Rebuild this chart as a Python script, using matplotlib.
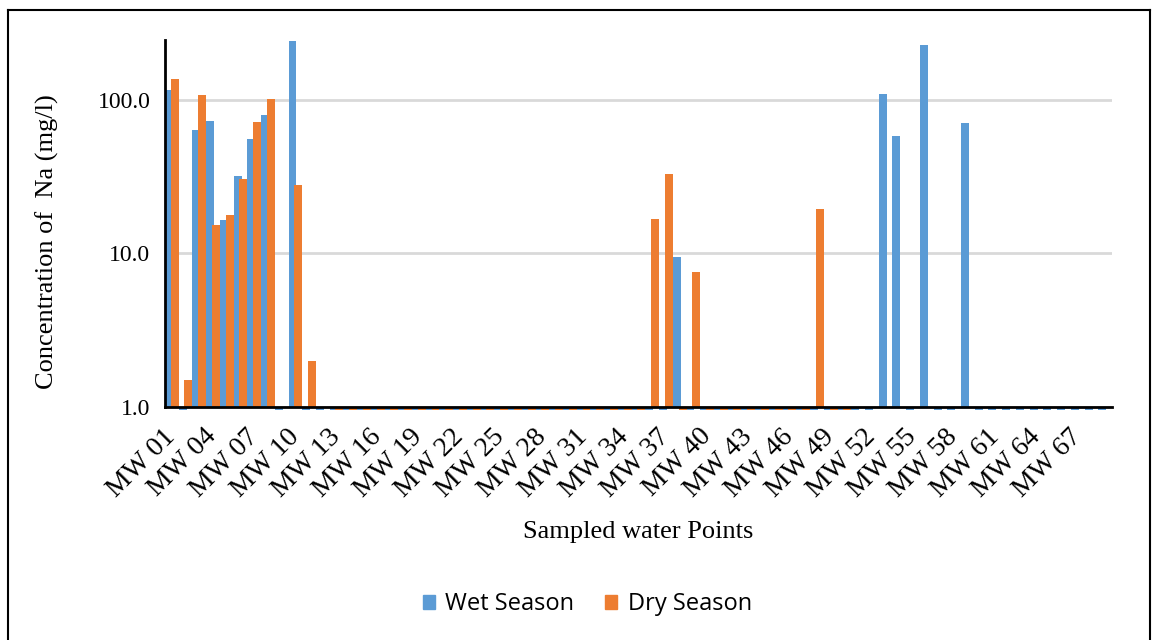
import numpy as np
import matplotlib.pyplot as plt
from matplotlib.ticker import FixedLocator, FixedFormatter, NullLocator
from matplotlib.lines import Line2D
from matplotlib.transforms import ScaledTranslation, blended_transform_factory

# sampling points MW 01 .. MW 69
sites = [f"MW {i:02d}" for i in range(1, 70)]

nan = np.nan
bdl = 0.96  # below 1 mg/l

# Na concentration (mg/l), wet season
wet = [115.7, bdl, 63.8, 73.0, 16.6, 32.0, 55.7, 79.5, bdl, 240.0,
       bdl, bdl] + [bdl] * 23 + [bdl, bdl, 9.5, bdl] + [bdl] * 13 + \
      [109.0, 57.7, bdl, 227.0, bdl, bdl, 71.1] + [bdl] * 10

# Na concentration (mg/l), dry season
dry = [137.0, 1.5, 106.7, 15.2, 17.9, 30.3, 72.2, 101.6, nan, 27.9,
       2.0, nan] + [bdl] * 23 + [16.8, 33.0, bdl, 7.6] + [bdl] * 8 + \
      [19.4, bdl, bdl] + [nan] * 19

wet = np.array(wet, dtype=float)
dry = np.array(dry, dtype=float)

blue = '#5B9BD5'
orange = '#ED7D31'
serif = 'Liberation Serif'

fig = plt.figure(figsize=(11.54, 6.40), dpi=100)
ax = fig.add_axes([165/1154, 1 - 407/640, 947/1154, 367/640])

x = np.arange(len(sites))
w = 0.58
ax.set_yscale('log')
for vals, off, col in [(wet, -0.21, blue), (dry, 0.21, orange)]:
    m = ~np.isnan(vals)
    ax.bar(x[m] + off, vals[m] - 1, bottom=1, width=w, color=col,
           clip_on=False, zorder=3)

ax.set_xlim(-0.5, len(sites) - 0.5)
ax.set_ylim(1, 245)

ax.yaxis.set_major_locator(FixedLocator([1, 10, 100]))
ax.yaxis.set_major_formatter(FixedFormatter(['1.0', '10.0', '100.0']))
ax.yaxis.set_minor_locator(NullLocator())
ax.grid(axis='y', color='#D9D9D9', linewidth=2, zorder=0)

# rotated category labels, every third site
ax.set_xticks([])
lab_tr = blended_transform_factory(ax.transData, ax.transAxes) + \
    ScaledTranslation(-0.09, -0.17, fig.dpi_scale_trans)
for xi in x[::3]:
    ax.text(xi, 0, sites[xi], transform=lab_tr, rotation=45, ha='right',
            va='top', rotation_mode='anchor', family=serif, fontsize=20)

ax.tick_params(axis='both', length=0)
ax.tick_params(axis='y', pad=10.5)
for lab in ax.get_yticklabels():
    lab.set_family(serif)
    lab.set_fontsize(17)

for s in ['top', 'right']:
    ax.spines[s].set_visible(False)
for s in ['left', 'bottom']:
    ax.spines[s].set_linewidth(2)
    ax.spines[s].set_zorder(4)

ax.set_ylabel('Concentration of  Na (mg/l)', family=serif, fontsize=19)
ax.yaxis.set_label_coords(-0.112, 0.45)
ax.set_xlabel('Sampled water Points', family=serif, fontsize=19)
ax.xaxis.set_label_coords(0.5, -0.31)

handles = [plt.Rectangle((0, 0), 1, 1, color=blue),
           plt.Rectangle((0, 0), 1, 1, color=orange)]
fig.legend(handles, ['Wet Season', 'Dry Season'], loc='center',
           bbox_to_anchor=(0.509, 0.056), ncol=2, frameon=False,
           prop={'family': 'Open Sans', 'size': 17},
           handlelength=0.5, handleheight=0.5, handletextpad=0.45,
           columnspacing=1.3)

# outer frame
for xs, ys in [([8/1154, 1150/1154], [1 - 10/640] * 2),
               ([8/1154] * 2, [0, 1 - 10/640]),
               ([1150/1154] * 2, [0, 1 - 10/640])]:
    fig.add_artist(Line2D(xs, ys, color='black', linewidth=1.5))

fig.savefig('out.png', dpi=100)
